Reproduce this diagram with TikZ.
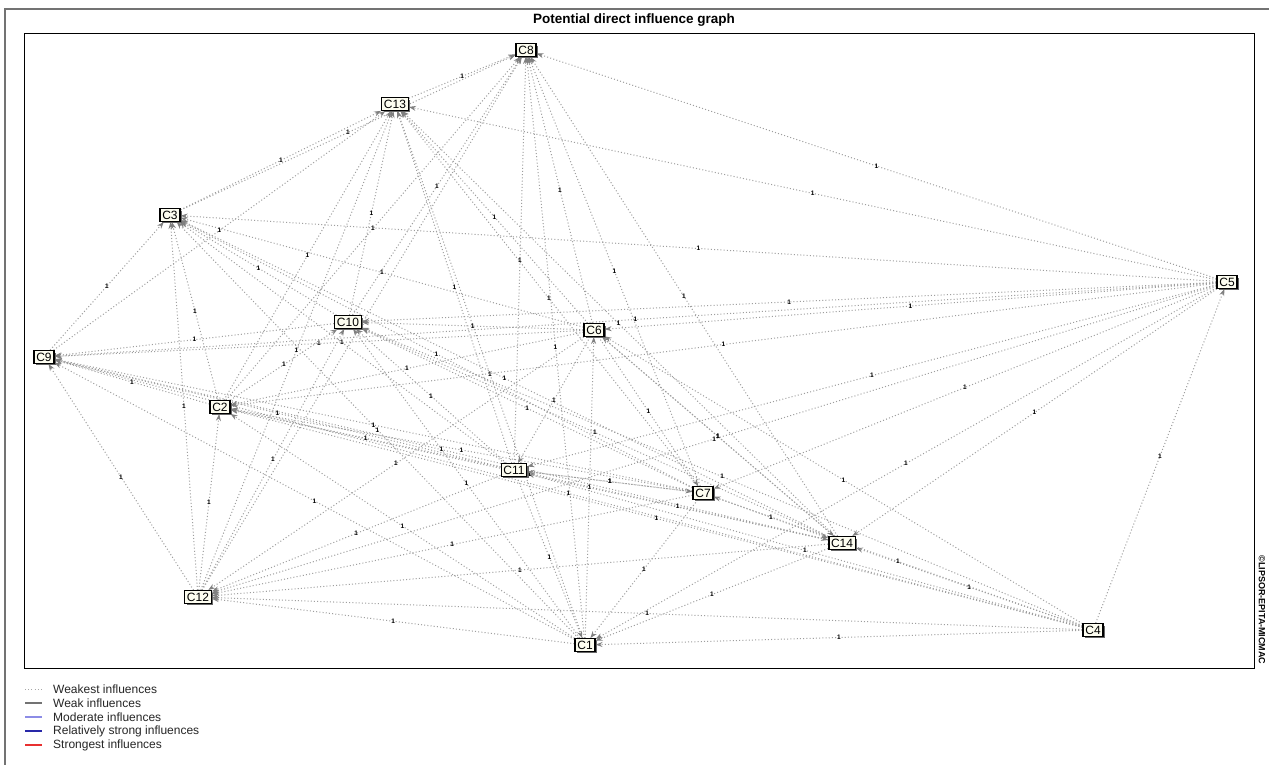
\documentclass[tikz,border=0pt]{standalone}
\usepackage{fontspec}
\setmainfont{Liberation Sans}
\usetikzlibrary{shadows,arrows.meta}
\pgfdeclarelayer{bg}
\pgfdeclarelayer{canvas}
\pgfsetlayers{canvas,bg,main}
\definecolor{nodefill}{HTML}{FDFDF0}
\definecolor{modcol}{HTML}{8C8CE6}
\definecolor{strcol}{HTML}{2828A8}
\definecolor{topcol}{HTML}{E83030}
\begin{document}
\begin{tikzpicture}[x=1pt,y=-1pt,
  cnode/.style={draw=black, line width=1.4pt, fill=nodefill, inner xsep=2.2pt, inner ysep=2pt,
    font=\fontsize{12}{12}\selectfont,
    drop shadow={shadow xshift=1.8pt,shadow yshift=-1.8pt,fill=black!60,opacity=1}},
  infl/.style={draw=black!38, line width=1pt, dash pattern=on 1pt off 2.2pt,
    -{Stealth[length=7pt,width=5pt,color=black!50]}},
  one/.style={font=\fontsize{6.5}{6.5}\selectfont\bfseries, inner sep=0pt, text=black},
  legtext/.style={font=\fontsize{12}{12}\selectfont, anchor=west, inner sep=0pt, text=black!85}]
\useasboundingbox (0,0) rectangle (1269,765);
\begin{pgfonlayer}{canvas}
\fill[white] (0,0) rectangle (1269,765);
\end{pgfonlayer}
% frame
\draw[black!55, line width=2.5pt] (5,765) -- (5,9) -- (1269,9);
\node[font=\bfseries\fontsize{13.5}{13.5}\selectfont] (title) at (634,20) {Potential direct influence graph};
\draw[black, line width=1pt] (24,34) rectangle (1254,668);
\node[rotate=-90, font=\fontsize{9}{9}\selectfont\bfseries] (copy) at (1262,610) {©LIPSOR-EPITA-MICMAC};
% nodes
\node[cnode] (C1)  at (585,645) {C1};
\node[cnode] (C2)  at (220,407) {C2};
\node[cnode] (C3)  at (170,215) {C3};
\node[cnode] (C4)  at (1093,630) {C4};
\node[cnode] (C5)  at (1227,282) {C5};
\node[cnode] (C6)  at (594,330) {C6};
\node[cnode] (C7)  at (703,493) {C7};
\node[cnode] (C8)  at (526,50) {C8};
\node[cnode] (C9)  at (44,357) {C9};
\node[cnode] (C10) at (348,322) {C10};
\node[cnode] (C11) at (514,470) {C11};
\node[cnode] (C12) at (198,597) {C12};
\node[cnode] (C13) at (395,104) {C13};
\node[cnode] (C14) at (842,543) {C14};
% edges
\begin{pgfonlayer}{bg}
\foreach \a/\b in {
  C4/C5, C4/C1, C4/C12, C4/C14, C4/C7, C4/C11, C4/C2, C4/C10, C4/C6, C4/C9,
  C5/C8, C5/C13, C5/C3, C5/C10, C5/C6, C5/C9, C5/C2, C5/C11, C5/C12, C5/C1, C5/C14, C5/C7,
  C1/C12, C1/C2, C1/C10, C1/C13, C1/C8, C1/C3, C1/C9, C1/C6,
  C14/C1, C14/C12, C14/C2, C14/C9, C14/C10, C14/C3, C14/C13, C14/C8, C14/C6,
  C7/C1, C7/C11, C7/C2, C7/C9, C7/C10, C7/C3, C7/C13, C7/C8, C7/C12, C7/C14,
  C11/C1, C11/C2, C11/C9, C11/C10, C11/C3, C11/C13, C11/C8, C11/C12, C11/C7, C11/C14,
  C6/C10, C6/C2, C6/C9, C6/C3, C6/C13, C6/C8, C6/C12, C6/C11, C6/C7, C6/C14,
  C12/C2, C12/C9, C12/C3, C12/C10, C12/C13, C12/C8,
  C2/C9, C2/C3, C2/C10, C2/C13, C2/C8,
  C10/C9, C10/C3, C10/C13, C10/C8,
  C9/C3, C9/C13,
  C3/C13, C3/C8,
  C13/C8}
  {\draw[infl] (\a) -- node[one]{1} (\b);}
\end{pgfonlayer}
% legend
\coordinate (l1a) at (25,689); \coordinate (l1b) at (42,689);
\coordinate (l2a) at (25,703); \coordinate (l2b) at (42,703);
\coordinate (l3a) at (25,717); \coordinate (l3b) at (42,717);
\coordinate (l4a) at (25,731); \coordinate (l4b) at (42,731);
\coordinate (l5a) at (25,745); \coordinate (l5b) at (42,745);
\draw[black!35, line width=1pt, dash pattern=on 1pt off 2.2pt] (l1a) -- (l1b);
\draw[black!55, line width=1.3pt] (l2a) -- (l2b);
\draw[modcol, line width=1.3pt] (l3a) -- (l3b);
\draw[strcol, line width=1.8pt] (l4a) -- (l4b);
\draw[topcol, line width=1.8pt] (l5a) -- (l5b);
\node[legtext] (t1) at (53,689) {Weakest influences};
\node[legtext] (t2) at (53,703) {Weak influences};
\node[legtext] (t3) at (53,717) {Moderate influences};
\node[legtext] (t4) at (53,731) {Relatively strong influences};
\node[legtext] (t5) at (53,745) {Strongest influences};
\end{tikzpicture}
\end{document}
